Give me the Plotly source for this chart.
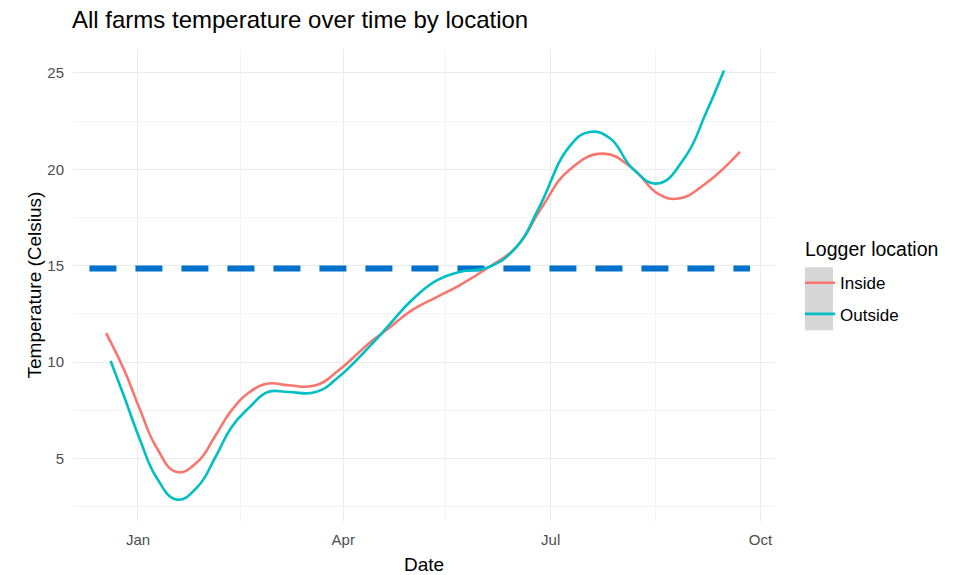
import plotly.graph_objects as go

# Smoothed temperature per logger location (°C)
inside_dates = ["2020-12-18", "2020-12-26", "2021-01-02", "2021-01-09", "2021-01-18",
                "2021-01-27", "2021-02-04", "2021-02-11", "2021-02-19", "2021-02-27",
                "2021-03-08", "2021-03-20", "2021-03-30", "2021-04-13", "2021-04-21",
                "2021-05-01", "2021-05-12", "2021-05-22", "2021-06-04", "2021-06-16",
                "2021-06-27", "2021-07-09", "2021-07-24", "2021-08-06", "2021-08-17",
                "2021-08-26", "2021-09-07", "2021-09-22"]
inside_temp = [11.50, 9.57, 7.49, 5.59, 4.29,
               4.81, 6.19, 7.49, 8.44, 8.88,
               8.79, 8.79, 9.57, 11.04, 11.75,
               12.68, 13.37, 13.98, 14.93, 15.97,
               18.00, 19.95, 20.81, 20.03, 18.74,
               18.48, 19.26, 20.90]

outside_dates = ["2020-12-20", "2020-12-26", "2021-01-02", "2021-01-09", "2021-01-18",
                 "2021-01-27", "2021-02-04", "2021-02-11", "2021-02-19", "2021-02-27",
                 "2021-03-08", "2021-03-20", "2021-03-30", "2021-04-13", "2021-04-21",
                 "2021-05-01", "2021-05-12", "2021-05-22", "2021-06-04", "2021-06-16",
                 "2021-06-26", "2021-07-09", "2021-07-18", "2021-07-27", "2021-08-06",
                 "2021-08-17", "2021-08-29", "2021-09-07", "2021-09-15"]
outside_temp = [10.05, 8.18, 5.93, 4.03, 2.86,
                3.51, 5.07, 6.62, 7.66, 8.44,
                8.44, 8.44, 9.22, 10.86, 11.90,
                13.20, 14.24, 14.67, 14.93, 15.97,
                18.04, 21.15, 21.93, 21.61, 20.03,
                19.26, 20.64, 22.89, 25.13]

# Reference threshold line
ref_dates = ["2020-12-10 17:00", "2021-09-26 10:00"]
ref_value = 14.85

x_ticks = ["2021-01-01", "2021-04-01", "2021-07-01", "2021-10-01"]
x_tick_labels = ["Jan", "Apr", "Jul", "Oct"]
x_minor = ["2021-02-15", "2021-05-16", "2021-08-16"]
y_ticks = [5, 10, 15, 20, 25]
y_minor = [2.5, 7.5, 12.5, 17.5, 22.5]

FONT = "Liberation Sans, Arial, sans-serif"
INSIDE_COL = "#F8766D"
OUTSIDE_COL = "#00BFC4"

fig = go.Figure()
fig.add_trace(go.Scatter(
    x=[ref_dates[0], ref_dates[1]], y=[ref_value, ref_value], mode="lines",
    line=dict(color="#0072CC", width=6, dash="27px,19px"),
    showlegend=False, hoverinfo="skip"))
fig.add_trace(go.Scatter(
    x=inside_dates, y=inside_temp, mode="lines", name="Inside", legendgroup="in",
    line=dict(color=INSIDE_COL, width=2.6, shape="spline", smoothing=1.3)))
fig.add_trace(go.Scatter(
    x=outside_dates, y=outside_temp, mode="lines", name="Outside", legendgroup="out",
    line=dict(color=OUTSIDE_COL, width=2.6, shape="spline", smoothing=1.3)))

# plot-area pixel bounds and helpers for paper coordinates
L, R, T, B = 73, 775, 48.5, 521
def px_x(px):
    return (px - L) / (R - L)
def px_y(py):
    return (B - py) / (B - T)

# grey key background behind the legend symbols
fig.add_shape(type="rect", xref="paper", yref="paper",
              x0=px_x(805), x1=px_x(833), y0=px_y(330), y1=px_y(267),
              fillcolor="#D6D6D6", line=dict(width=0), layer="below")

# legend heading
fig.add_annotation(text="Logger location", xref="paper", yref="paper",
                   x=px_x(803), xanchor="left", y=px_y(249), yanchor="middle",
                   showarrow=False, font=dict(size=19.5, color="black", family=FONT))

fig.update_layout(
    width=953, height=575,
    margin=dict(l=L, r=953 - R, t=T, b=575 - B),
    paper_bgcolor="white", plot_bgcolor="white",
    font=dict(family=FONT, color="black"),
    title=dict(text="All farms temperature over time by location",
               x=72 / 953, xanchor="left", y=1 - 19.5 / 575, yanchor="middle",
               font=dict(size=24, color="black", family=FONT)),
    legend=dict(
        font=dict(size=17, color="black"),
        x=px_x(800), xanchor="left", y=px_y(265), yanchor="top",
        bgcolor="rgba(0,0,0,0)", tracegroupgap=6, traceorder="grouped"),
    showlegend=True,
)

fig.update_xaxes(
    type="date", range=["2020-12-03 12:00", "2021-10-07 09:00"], automargin=False,
    tickmode="array", tickvals=x_ticks, ticktext=x_tick_labels,
    showgrid=True, gridcolor="#EBEBEB", gridwidth=1.1,
    minor=dict(tickmode="array", tickvals=x_minor, showgrid=True,
               gridcolor="#F3F3F3", gridwidth=0.8),
    zeroline=False, showline=False, ticks="",
    tickfont=dict(size=15, color="#4D4D4D", family=FONT),
    ticklabelstandoff=8,
    title=dict(text="Date", font=dict(size=19, color="black", family=FONT), standoff=10),
)
fig.update_yaxes(
    range=[1.75, 26.24], automargin=False,
    tickmode="array", tickvals=y_ticks, ticktext=[str(v) for v in y_ticks],
    showgrid=True, gridcolor="#EBEBEB", gridwidth=1.1,
    minor=dict(tickmode="array", tickvals=y_minor, showgrid=True,
               gridcolor="#F3F3F3", gridwidth=0.8),
    zeroline=False, showline=False, ticks="",
    tickfont=dict(size=15, color="#4D4D4D", family=FONT),
    ticklabelstandoff=8,
    title=dict(text="Temperature (Celsius)", font=dict(size=19, color="black", family=FONT),
               standoff=0),
)

fig.write_html("out.html")
